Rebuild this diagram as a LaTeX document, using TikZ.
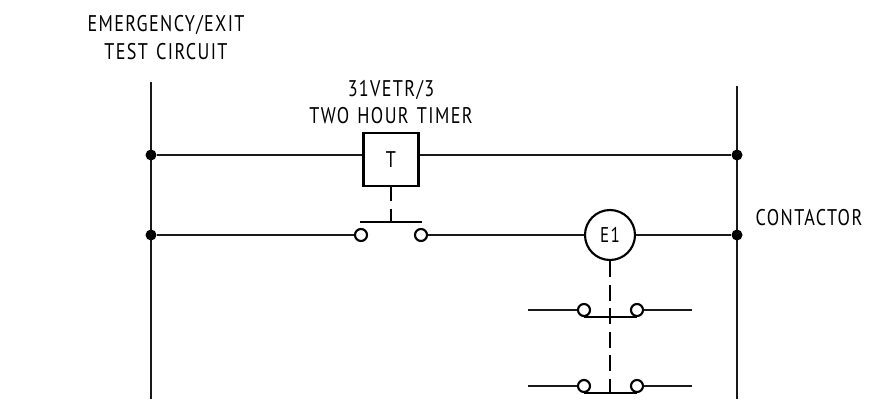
\documentclass[tikz,border=0pt]{standalone}
\usepackage{fontspec}
\setmainfont[LetterSpace=6,FakeStretch=0.8]{PT Sans}
\begin{document}
\begin{tikzpicture}[x=0.75pt,y=-0.75pt,
  wire/.style={line width=1.5pt,black!90},
  linkwire/.style={line width=1.5pt,black},
  junction/.style={circle,fill=black,inner sep=0pt,minimum size=8.25pt},
  terminal/.style={circle,draw=black,line width=1.6pt,fill=white,inner sep=0pt,minimum size=9pt},
  relaybox/.style={draw=black,line width=1.9pt,fill=white,minimum width=41.5pt,minimum height=40pt,inner sep=0pt},
  coil/.style={circle,draw=black,line width=1.6pt,fill=white,minimum size=37.5pt,inner sep=0pt},
  label/.style={inner sep=0pt,font=\fontsize{17pt}{17pt}\selectfont}]
\useasboundingbox (0,0) rectangle (893,401);
\fill[white] (0,0) rectangle (893,401);
% rails
\coordinate (railLtop) at (151,82);
\coordinate (railLbot) at (151,399);
\coordinate (railRtop) at (737,86);
\coordinate (railRbot) at (737,399);
\draw[wire] (railLtop) -- (railLbot);
\draw[wire] (railRtop) -- (railRbot);
% nodes
\node[junction] (jL1) at (151,155) {};
\node[junction] (jR1) at (737,155) {};
\node[junction] (jL2) at (151,235) {};
\node[junction] (jR2) at (737,235) {};
\node[relaybox] (timer) at (391,159.5) {};
\node[label] at (timer.center) {T};
\node[coil] (e1) at (610,235) {};
\node[label,font=\fontsize{16pt}{16pt}\selectfont] at (e1.center) {E1};
\node[terminal] (a1) at (361,235) {};
\node[terminal] (a2) at (421,235) {};
\node[terminal] (b1) at (584,310) {};
\node[terminal] (b2) at (637,310) {};
\node[terminal] (c1) at (584,386) {};
\node[terminal] (c2) at (637,386) {};
\coordinate (b0) at (528,310);
\coordinate (b3) at (692,310);
\coordinate (c0) at (528,386);
\coordinate (c3) at (692,386);
% wires
\draw[wire] (jL1) -- (jL1 -| timer.west) (jR1 -| timer.east) -- (jR1);
\draw[wire] (jL2) -- (a1) (a2) -- (e1) (e1) -- (jR2);
\draw[wire] (b0) -- (b1) (b2) -- (b3);
\draw[wire] (c0) -- (c1) (c2) -- (c3);
% moving contacts
\coordinate (barA1) at (360,222);
\coordinate (barA2) at (422,222);
\coordinate (barB1) at (584,316.5);
\coordinate (barB2) at (637,316.5);
\coordinate (barC1) at (584,392.5);
\coordinate (barC2) at (637,392.5);
\draw[linkwire] (barA1) -- (barA2);
\draw[linkwire] (barB1) -- (barB2);
\draw[linkwire] (barC1) -- (barC2);
% mechanical links
\coordinate (tA) at (390.5,222);
\coordinate (tB) at (610,392.5);
\draw[linkwire,dash pattern=on 10.5pt off 5.3pt] (timer.south -| tA) -- (tA);
\draw[linkwire,dash pattern=on 12pt off 5.7pt] (e1.south) -- (tB);
% labels
\node[label] at (166,25) {EMERGENCY/EXIT};
\node[label] at (166,52) {TEST\hspace{6.2pt}CIRCUIT};
\node[label] at (391,90) {31VETR/3};
\node[label] at (391,116) {TWO\hspace{6.2pt}HOUR\hspace{6.2pt}TIMER};
\node[label] at (809,218) {CONTACTOR};
\end{tikzpicture}
\end{document}
